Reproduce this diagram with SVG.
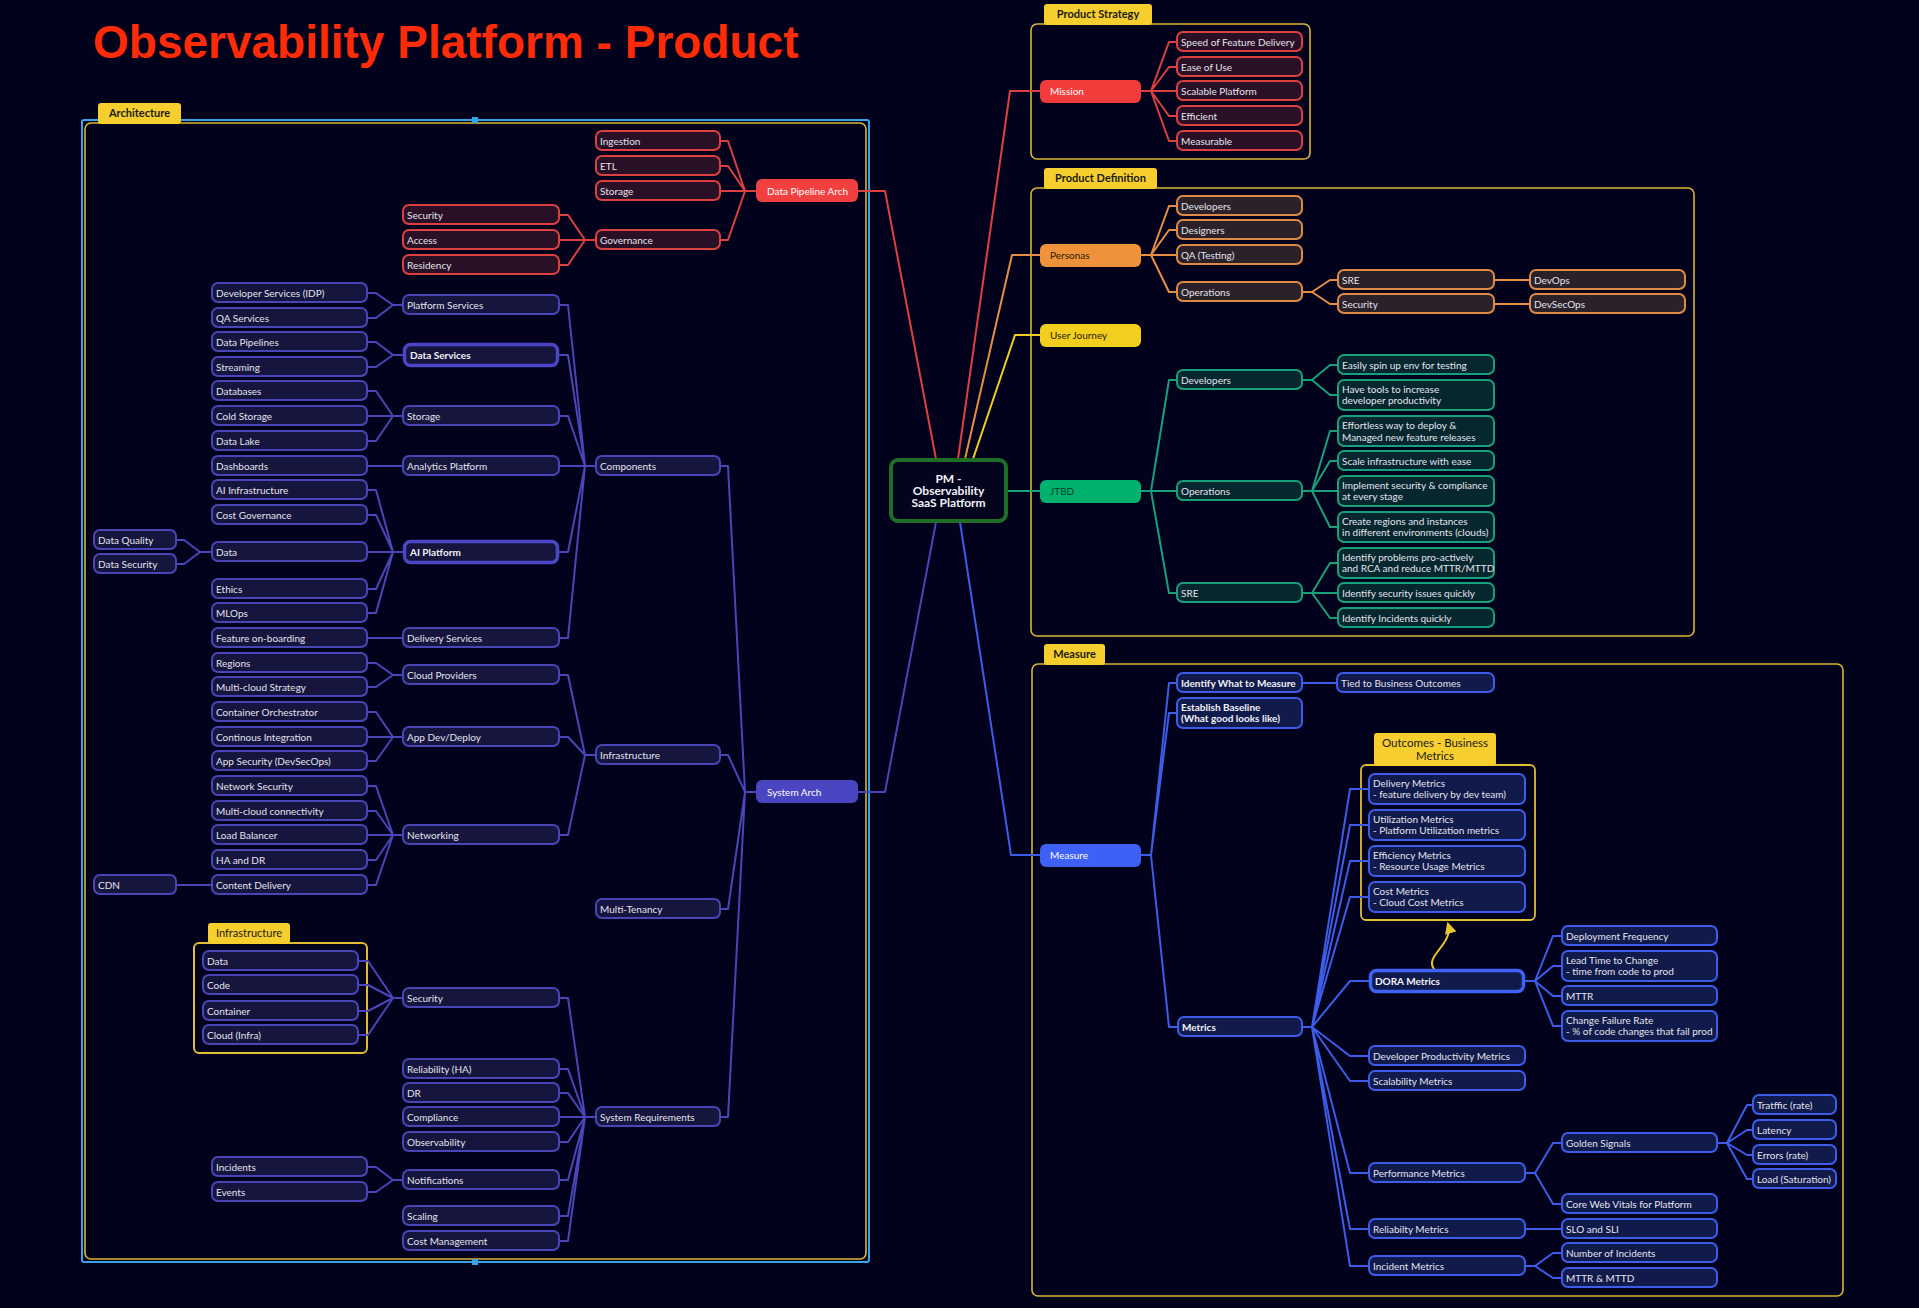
<svg xmlns="http://www.w3.org/2000/svg" width="1919" height="1308" viewBox="0 0 1919 1308">
<defs>
<style>
.r{fill:#2A1026;stroke:#DC4040;stroke-width:2}
.p{fill:#15153E;stroke:#4A45B6;stroke-width:2}
.pb{fill:#15153E;stroke:#4B46C6;stroke-width:3.5}
.o{fill:#2B2129;stroke:#DE8A46;stroke-width:2}
.g{fill:#06272D;stroke:#17A079;stroke-width:2}
.b{fill:#101A4B;stroke:#3D5CE8;stroke-width:2}
.bb{fill:#101A4B;stroke:#3F62F5;stroke-width:3.5}
.t{font-family:Lato,"Open Sans","DejaVu Sans",sans-serif;font-size:10px;fill:#E4E4EE}
.tb{font-weight:bold;fill:#F2F2F8}
.tw{fill:#FFFFFF}
.td{fill:#2A1A08}
.tab{fill:#F6CE2E}
.tabt{font-family:Lato,"Open Sans",sans-serif;font-size:11px;font-weight:bold;fill:#1A1A12;text-anchor:middle}
.box{fill:none;stroke:#D8B735;stroke-width:1.6}
.c path{fill:none;stroke-width:2;stroke-linejoin:round;stroke-linecap:round}
</style>
<marker id="ah" viewBox="0 0 10 10" refX="8" refY="5" markerWidth="6" markerHeight="6" orient="auto-start-reverse">
<path d="M0,0 L10,5 L0,10 z" fill="#E8C52A"/>
</marker>
</defs>
<rect width="1919" height="1308" fill="#02021C"/>

<text x="93" y="58" font-family="'Liberation Sans',Arial,sans-serif" font-size="46" font-weight="bold" fill="#FF2B06">Observability Platform - Product</text>

<!-- containers -->
<g id="architecture-container">
<rect x="82" y="120" width="787" height="1142" rx="2" fill="none" stroke="#38A3E6" stroke-width="2"/>
<rect x="85" y="123" width="781" height="1136" rx="6" class="box"/>
<rect x="98" y="103" width="83" height="21" rx="3" class="tab"/>
<text x="139.5" y="117" class="tabt">Architecture</text>
<rect x="472" y="117" width="6" height="6" fill="#38A3E6"/>
<rect x="472" y="1259" width="6" height="6" fill="#38A3E6"/>
</g>
<g id="infrastructure-container">
<rect x="194" y="943" width="173" height="110" rx="5" fill="none" stroke="#E0BC30" stroke-width="2"/>
<rect x="208" y="923" width="82" height="21" rx="3" class="tab"/>
<text x="249" y="937" class="tabt" font-weight="normal" style="font-weight:normal">Infrastructure</text>
</g>
<g id="product-strategy-container">
<rect x="1031" y="24" width="279" height="135" rx="6" class="box"/>
<rect x="1044" y="4" width="108" height="21" rx="3" class="tab"/>
<text x="1098" y="18" class="tabt">Product Strategy</text>
</g>
<g id="product-definition-container">
<rect x="1031" y="188" width="663" height="448" rx="6" class="box"/>
<rect x="1044" y="168" width="113" height="21" rx="3" class="tab"/>
<text x="1100.5" y="182" class="tabt">Product Definition</text>
</g>
<g id="measure-container">
<rect x="1032" y="664" width="811" height="632" rx="6" class="box"/>
<rect x="1044" y="644" width="61" height="21" rx="3" class="tab"/>
<text x="1074.5" y="658" class="tabt">Measure</text>
</g>
<g id="outcomes-container">
<rect x="1361" y="765" width="174" height="155" rx="5" fill="none" stroke="#E0BC30" stroke-width="1.8"/>
<rect x="1374" y="733" width="122" height="33" rx="3" class="tab"/>
<text x="1435" y="747" class="tabt" style="font-weight:normal;font-size:11.5px">Outcomes - Business</text>
<text x="1435" y="760" class="tabt" style="font-weight:normal;font-size:11.5px">Metrics</text>
</g>

<!-- connectors -->
<g id="connectors" class="c">
<g stroke="#4A45B8">
<path d="M367 293H376L393 305H403M367 318H376L393 305"/>
<path d="M367 342H376L393 355H403M367 367H376L393 355"/>
<path d="M367 391H376L393 416H403M367 416H403M367 441H376L393 416"/>
<path d="M367 466H403"/>
<path d="M367 490H376L393 552H403M367 515H376L393 552M367 552H403M367 589H376L393 552M367 613H376L393 552"/>
<path d="M176 540H184L200 552H212M176 564H184L200 552"/>
<path d="M367 638H403"/>
<path d="M367 663H376L393 675H403M367 687H376L393 675"/>
<path d="M367 712H376L393 737H403M367 737H403M367 761H376L393 737"/>
<path d="M367 786H376L393 835H403M367 811H376L393 835M367 835H403M367 860H376L393 835M367 885H376L393 835"/>
<path d="M176 885H212"/>
<path d="M358 961H368L393 998H403M358 985H368L393 998M358 1011H368L393 998M358 1035H368L393 998"/>
<path d="M367 1167H376L393 1180H403M367 1192H376L393 1180"/>
<path d="M559 305H568L585 466H596M559 355H568L585 466M559 416H568L585 466M559 466H596M559 552H568L585 466M559 638H568L585 466"/>
<path d="M559 675H568L585 755H596M559 737H568L585 755M559 835H568L585 755"/>
<path d="M559 998H568L585 1117H596M559 1069H568L585 1117M559 1093H568L585 1117M559 1117H596M559 1142H568L585 1117M559 1180H568L585 1117M559 1216H568L585 1117M559 1241H568L585 1117"/>
<path d="M720 466H728L745 792H756M720 755H728L745 792M720 909H728L745 792M720 1117H728L745 792"/>
<path d="M858 792H885L936 522"/>
</g>
<g stroke="#DC4040">
<path d="M559 215H568L585 240H596M559 240H596M559 265H568L585 240"/>
<path d="M720 141H728L745 191H756M720 166H728L745 191M720 191H756M720 240H728L745 191"/>
<path d="M858 191H885L936 459"/>
<path d="M958 459L1010 91H1040"/>
<path d="M1141 91H1151L1169 42H1177M1151 91L1169 67H1177M1151 91H1177M1151 91L1169 116H1177M1151 91L1169 141H1177"/>
</g>
<g stroke="#E88E44">
<path d="M965 459L1012 255H1040"/>
<path d="M1141 255H1151L1169 206H1177M1151 255L1169 230H1177M1151 255H1177M1151 255L1169 292H1177"/>
<path d="M1302 292H1312L1330 280H1338M1312 292L1330 304H1338"/>
<path d="M1494 280H1530M1494 304H1530"/>
</g>
<g stroke="#F2CF1F">
<path d="M973 459L1015 335H1040"/>
</g>
<g stroke="#17A079">
<path d="M1007 491H1040"/>
<path d="M1141 491H1151L1169 380H1177M1151 491H1177M1151 491L1169 593H1177"/>
<path d="M1302 380H1312L1330 365H1338M1312 380L1330 395H1338"/>
<path d="M1302 491H1312L1330 431H1338M1312 491L1330 461H1338M1312 491H1338M1312 491L1330 527H1338"/>
<path d="M1302 593H1312L1330 563H1338M1312 593H1338M1312 593L1330 618H1338"/>
</g>
<g stroke="#3D5CE8">
<path d="M960 522L1011 855H1040"/>
<path d="M1141 855H1151L1169 683H1177M1151 855L1169 713H1177M1151 855L1169 1027H1177"/>
<path d="M1302 683H1337"/>
<path d="M1302 1027H1312L1350 789H1369M1312 1027L1350 825H1369M1312 1027L1350 861H1369M1312 1027L1350 897H1369M1312 1027L1350 981H1369M1312 1027L1350 1056H1369M1312 1027L1350 1081H1369M1312 1027L1350 1173H1369M1312 1027L1350 1229H1369M1312 1027L1350 1266H1369"/>
<path d="M1525 981H1535L1553 936H1562M1535 981L1553 966H1562M1535 981L1553 996H1562M1535 981L1553 1026H1562"/>
<path d="M1525 1173H1535L1553 1143H1562M1535 1173L1553 1204H1562"/>
<path d="M1525 1229H1562"/>
<path d="M1525 1266H1535L1553 1253H1562M1535 1266L1553 1278H1562"/>
<path d="M1717 1143H1727L1747 1105H1753M1727 1143L1747 1130H1753M1727 1143L1747 1155H1753M1727 1143L1747 1179H1753"/>
</g>
<path d="M1434 969C1424 956 1454 944 1448 924" stroke="#E8C52A" stroke-width="1.5" marker-end="url(#ah)"/>
</g>

<!-- central node -->
<g id="n-center">
<rect x="891" y="460" width="115" height="61" rx="7" fill="#04041E" stroke="#1F6E28" stroke-width="4"/>
<text x="948.5" y="483" class="t tb" font-size="12" text-anchor="middle" style="font-size:12px">PM -</text>
<text x="948.5" y="495" class="t tb" text-anchor="middle" style="font-size:12px">Observability</text>
<text x="948.5" y="507" class="t tb" text-anchor="middle" style="font-size:12px">SaaS Platform</text>
</g>

<!-- architecture L1 -->
<g id="n-data-pipeline-arch"><rect x="756" y="179" width="102" height="23" rx="6" fill="#F0403F"/><text x="767" y="195" class="t tw">Data Pipeline Arch</text></g>
<g id="n-system-arch"><rect x="756" y="780" width="102" height="23" rx="6" fill="#4A45C0"/><text x="767" y="796" class="t tw">System Arch</text></g>

<!-- architecture L2 -->
<g id="n-ingestion"><rect x="596" y="131" width="124" height="19" rx="6" class="r"/><text x="600" y="145" class="t">Ingestion</text></g>
<g id="n-etl"><rect x="596" y="156" width="124" height="19" rx="6" class="r"/><text x="600" y="170" class="t">ETL</text></g>
<g id="n-dp-storage"><rect x="596" y="181" width="124" height="19" rx="6" class="r"/><text x="600" y="195" class="t">Storage</text></g>
<g id="n-governance"><rect x="596" y="230" width="124" height="19" rx="6" class="r"/><text x="600" y="244" class="t">Governance</text></g>
<g id="n-components"><rect x="596" y="456" width="124" height="19" rx="6" class="p"/><text x="600" y="470" class="t">Components</text></g>
<g id="n-infrastructure"><rect x="596" y="745" width="124" height="19" rx="6" class="p"/><text x="600" y="759" class="t">Infrastructure</text></g>
<g id="n-multi-tenancy"><rect x="596" y="899" width="124" height="19" rx="6" class="p"/><text x="600" y="913" class="t">Multi-Tenancy</text></g>
<g id="n-system-requirements"><rect x="596" y="1107" width="124" height="19" rx="6" class="p"/><text x="600" y="1121" class="t">System Requirements</text></g>

<!-- architecture L3 -->
<g id="n-gov-security"><rect x="403" y="205" width="156" height="19" rx="6" class="r"/><text x="407" y="219" class="t">Security</text></g>
<g id="n-access"><rect x="403" y="230" width="156" height="19" rx="6" class="r"/><text x="407" y="244" class="t">Access</text></g>
<g id="n-residency"><rect x="403" y="255" width="156" height="19" rx="6" class="r"/><text x="407" y="269" class="t">Residency</text></g>
<g id="n-platform-services"><rect x="403" y="295" width="156" height="19" rx="6" class="p"/><text x="407" y="309" class="t">Platform Services</text></g>
<g id="n-data-services"><rect x="404.5" y="344.5" width="153" height="21" rx="6" class="pb"/><text x="410" y="359" class="t tb">Data Services</text></g>
<g id="n-storage"><rect x="403" y="406" width="156" height="19" rx="6" class="p"/><text x="407" y="420" class="t">Storage</text></g>
<g id="n-analytics"><rect x="403" y="456" width="156" height="19" rx="6" class="p"/><text x="407" y="470" class="t">Analytics Platform</text></g>
<g id="n-ai-platform"><rect x="404.5" y="541.5" width="153" height="21" rx="6" class="pb"/><text x="410" y="556" class="t tb">AI Platform</text></g>
<g id="n-delivery-services"><rect x="403" y="628" width="156" height="19" rx="6" class="p"/><text x="407" y="642" class="t">Delivery Services</text></g>
<g id="n-cloud-providers"><rect x="403" y="665" width="156" height="19" rx="6" class="p"/><text x="407" y="679" class="t">Cloud Providers</text></g>
<g id="n-appdev"><rect x="403" y="727" width="156" height="19" rx="6" class="p"/><text x="407" y="741" class="t">App Dev/Deploy</text></g>
<g id="n-networking"><rect x="403" y="825" width="156" height="19" rx="6" class="p"/><text x="407" y="839" class="t">Networking</text></g>
<g id="n-sec-infra"><rect x="403" y="988" width="156" height="19" rx="6" class="p"/><text x="407" y="1002" class="t">Security</text></g>
<g id="n-reliability"><rect x="403" y="1059" width="156" height="19" rx="6" class="p"/><text x="407" y="1073" class="t">Reliability (HA)</text></g>
<g id="n-dr"><rect x="403" y="1083" width="156" height="19" rx="6" class="p"/><text x="407" y="1097" class="t">DR</text></g>
<g id="n-compliance"><rect x="403" y="1107" width="156" height="19" rx="6" class="p"/><text x="407" y="1121" class="t">Compliance</text></g>
<g id="n-observability"><rect x="403" y="1132" width="156" height="19" rx="6" class="p"/><text x="407" y="1146" class="t">Observability</text></g>
<g id="n-notifications"><rect x="403" y="1170" width="156" height="19" rx="6" class="p"/><text x="407" y="1184" class="t">Notifications</text></g>
<g id="n-scaling"><rect x="403" y="1206" width="156" height="19" rx="6" class="p"/><text x="407" y="1220" class="t">Scaling</text></g>
<g id="n-cost-mgmt"><rect x="403" y="1231" width="156" height="19" rx="6" class="p"/><text x="407" y="1245" class="t">Cost Management</text></g>

<!-- architecture leaves -->
<g id="n-dev-services"><rect x="212" y="283" width="155" height="19" rx="6" class="p"/><text x="216" y="297" class="t">Developer Services (IDP)</text></g>
<g id="n-qa-services"><rect x="212" y="308" width="155" height="19" rx="6" class="p"/><text x="216" y="322" class="t">QA Services</text></g>
<g id="n-data-pipelines"><rect x="212" y="332" width="155" height="19" rx="6" class="p"/><text x="216" y="346" class="t">Data Pipelines</text></g>
<g id="n-streaming"><rect x="212" y="357" width="155" height="19" rx="6" class="p"/><text x="216" y="371" class="t">Streaming</text></g>
<g id="n-databases"><rect x="212" y="381" width="155" height="19" rx="6" class="p"/><text x="216" y="395" class="t">Databases</text></g>
<g id="n-cold-storage"><rect x="212" y="406" width="155" height="19" rx="6" class="p"/><text x="216" y="420" class="t">Cold Storage</text></g>
<g id="n-data-lake"><rect x="212" y="431" width="155" height="19" rx="6" class="p"/><text x="216" y="445" class="t">Data Lake</text></g>
<g id="n-dashboards"><rect x="212" y="456" width="155" height="19" rx="6" class="p"/><text x="216" y="470" class="t">Dashboards</text></g>
<g id="n-ai-infra"><rect x="212" y="480" width="155" height="19" rx="6" class="p"/><text x="216" y="494" class="t">AI Infrastructure</text></g>
<g id="n-cost-gov"><rect x="212" y="505" width="155" height="19" rx="6" class="p"/><text x="216" y="519" class="t">Cost Governance</text></g>
<g id="n-ai-data"><rect x="212" y="542" width="155" height="19" rx="6" class="p"/><text x="216" y="556" class="t">Data</text></g>
<g id="n-ethics"><rect x="212" y="579" width="155" height="19" rx="6" class="p"/><text x="216" y="593" class="t">Ethics</text></g>
<g id="n-mlops"><rect x="212" y="603" width="155" height="19" rx="6" class="p"/><text x="216" y="617" class="t">MLOps</text></g>
<g id="n-feature-onboarding"><rect x="212" y="628" width="155" height="19" rx="6" class="p"/><text x="216" y="642" class="t">Feature on-boarding</text></g>
<g id="n-regions"><rect x="212" y="653" width="155" height="19" rx="6" class="p"/><text x="216" y="667" class="t">Regions</text></g>
<g id="n-mc-strategy"><rect x="212" y="677" width="155" height="19" rx="6" class="p"/><text x="216" y="691" class="t">Multi-cloud Strategy</text></g>
<g id="n-container-orch"><rect x="212" y="702" width="155" height="19" rx="6" class="p"/><text x="216" y="716" class="t">Container Orchestrator</text></g>
<g id="n-ci"><rect x="212" y="727" width="155" height="19" rx="6" class="p"/><text x="216" y="741" class="t">Continous Integration</text></g>
<g id="n-app-sec"><rect x="212" y="751" width="155" height="19" rx="6" class="p"/><text x="216" y="765" class="t">App Security (DevSecOps)</text></g>
<g id="n-net-sec"><rect x="212" y="776" width="155" height="19" rx="6" class="p"/><text x="216" y="790" class="t">Network Security</text></g>
<g id="n-mc-conn"><rect x="212" y="801" width="155" height="19" rx="6" class="p"/><text x="216" y="815" class="t">Multi-cloud connectivity</text></g>
<g id="n-lb"><rect x="212" y="825" width="155" height="19" rx="6" class="p"/><text x="216" y="839" class="t">Load Balancer</text></g>
<g id="n-ha-dr"><rect x="212" y="850" width="155" height="19" rx="6" class="p"/><text x="216" y="864" class="t">HA and DR</text></g>
<g id="n-content-delivery"><rect x="212" y="875" width="155" height="19" rx="6" class="p"/><text x="216" y="889" class="t">Content Delivery</text></g>
<g id="n-incidents"><rect x="212" y="1157" width="155" height="19" rx="6" class="p"/><text x="216" y="1171" class="t">Incidents</text></g>
<g id="n-events"><rect x="212" y="1182" width="155" height="19" rx="6" class="p"/><text x="216" y="1196" class="t">Events</text></g>
<g id="n-data-quality"><rect x="94" y="530" width="82" height="19" rx="6" class="p"/><text x="98" y="544" class="t">Data Quality</text></g>
<g id="n-data-security"><rect x="94" y="554" width="82" height="19" rx="6" class="p"/><text x="98" y="568" class="t">Data Security</text></g>
<g id="n-cdn"><rect x="94" y="875" width="82" height="19" rx="6" class="p"/><text x="98" y="889" class="t">CDN</text></g>
<g id="n-inf-data"><rect x="203" y="951" width="155" height="19" rx="6" class="p"/><text x="207" y="965" class="t">Data</text></g>
<g id="n-inf-code"><rect x="203" y="975" width="155" height="19" rx="6" class="p"/><text x="207" y="989" class="t">Code</text></g>
<g id="n-inf-container"><rect x="203" y="1001" width="155" height="19" rx="6" class="p"/><text x="207" y="1015" class="t">Container</text></g>
<g id="n-inf-cloud"><rect x="203" y="1025" width="155" height="19" rx="6" class="p"/><text x="207" y="1039" class="t">Cloud (Infra)</text></g>

<!-- right side L1 -->
<g id="n-mission"><rect x="1040" y="80" width="101" height="23" rx="6" fill="#F23C3C"/><text x="1050" y="95" class="t tw">Mission</text></g>
<g id="n-personas"><rect x="1040" y="244" width="101" height="23" rx="6" fill="#F0923C"/><text x="1050" y="259" class="t td">Personas</text></g>
<g id="n-user-journey"><rect x="1040" y="324" width="101" height="23" rx="6" fill="#F2CF1F"/><text x="1050" y="339" class="t td">User Journey</text></g>
<g id="n-jtbd"><rect x="1040" y="480" width="101" height="23" rx="6" fill="#00B26E"/><text x="1050" y="495" class="t" style="fill:#083A24">JTBD</text></g>
<g id="n-measure"><rect x="1040" y="844" width="101" height="23" rx="6" fill="#3F60F5"/><text x="1050" y="859" class="t tw">Measure</text></g>

<!-- mission children -->
<g id="n-speed"><rect x="1177" y="32" width="125" height="19" rx="6" class="r"/><text x="1181" y="46" class="t">Speed of Feature Delivery</text></g>
<g id="n-ease"><rect x="1177" y="57" width="125" height="19" rx="6" class="r"/><text x="1181" y="71" class="t">Ease of Use</text></g>
<g id="n-scalable"><rect x="1177" y="81" width="125" height="19" rx="6" class="r"/><text x="1181" y="95" class="t">Scalable Platform</text></g>
<g id="n-efficient"><rect x="1177" y="106" width="125" height="19" rx="6" class="r"/><text x="1181" y="120" class="t">Efficient</text></g>
<g id="n-measurable"><rect x="1177" y="131" width="125" height="19" rx="6" class="r"/><text x="1181" y="145" class="t">Measurable</text></g>

<!-- personas -->
<g id="n-p-developers"><rect x="1177" y="196" width="125" height="19" rx="6" class="o"/><text x="1181" y="210" class="t">Developers</text></g>
<g id="n-p-designers"><rect x="1177" y="220" width="125" height="19" rx="6" class="o"/><text x="1181" y="234" class="t">Designers</text></g>
<g id="n-p-qa"><rect x="1177" y="245" width="125" height="19" rx="6" class="o"/><text x="1181" y="259" class="t">QA (Testing)</text></g>
<g id="n-p-operations"><rect x="1177" y="282" width="125" height="19" rx="6" class="o"/><text x="1181" y="296" class="t">Operations</text></g>
<g id="n-p-sre"><rect x="1338" y="270" width="156" height="19" rx="6" class="o"/><text x="1342" y="284" class="t">SRE</text></g>
<g id="n-p-security"><rect x="1338" y="294" width="156" height="19" rx="6" class="o"/><text x="1342" y="308" class="t">Security</text></g>
<g id="n-p-devops"><rect x="1530" y="270" width="155" height="19" rx="6" class="o"/><text x="1534" y="284" class="t">DevOps</text></g>
<g id="n-p-devsecops"><rect x="1530" y="294" width="155" height="19" rx="6" class="o"/><text x="1534" y="308" class="t">DevSecOps</text></g>

<!-- JTBD -->
<g id="n-j-developers"><rect x="1177" y="370" width="125" height="19" rx="6" class="g"/><text x="1181" y="384" class="t">Developers</text></g>
<g id="n-j-operations"><rect x="1177" y="481" width="125" height="19" rx="6" class="g"/><text x="1181" y="495" class="t">Operations</text></g>
<g id="n-j-sre"><rect x="1177" y="583" width="125" height="19" rx="6" class="g"/><text x="1181" y="597" class="t">SRE</text></g>
<g id="n-j-spin"><rect x="1338" y="355" width="156" height="19" rx="6" class="g"/><text x="1342" y="369" class="t">Easily spin up env for testing</text></g>
<g id="n-j-tools"><rect x="1338" y="380" width="156" height="30" rx="6" class="g"/><text x="1342" y="393" class="t">Have tools to increase</text><text x="1342" y="404" class="t">developer productivity</text></g>
<g id="n-j-deploy"><rect x="1338" y="416" width="156" height="30" rx="6" class="g"/><text x="1342" y="429" class="t">Effortless way to deploy &amp;</text><text x="1342" y="441" class="t">Managed new feature releases</text></g>
<g id="n-j-scale"><rect x="1338" y="451" width="156" height="19" rx="6" class="g"/><text x="1342" y="465" class="t">Scale infrastructure with ease</text></g>
<g id="n-j-security"><rect x="1338" y="476" width="156" height="30" rx="6" class="g"/><text x="1342" y="489" class="t">Implement security &amp; compliance</text><text x="1342" y="500" class="t">at every stage</text></g>
<g id="n-j-regions"><rect x="1338" y="512" width="156" height="30" rx="6" class="g"/><text x="1342" y="525" class="t">Create regions and instances</text><text x="1342" y="536" class="t">in different environments (clouds)</text></g>
<g id="n-j-problems"><rect x="1338" y="548" width="156" height="30" rx="6" class="g"/><text x="1342" y="561" class="t">Identify problems pro-actively</text><text x="1342" y="572" class="t">and RCA and reduce MTTR/MTTD</text></g>
<g id="n-j-secissues"><rect x="1338" y="583" width="156" height="19" rx="6" class="g"/><text x="1342" y="597" class="t">Identify security issues quickly</text></g>
<g id="n-j-incidents"><rect x="1338" y="608" width="156" height="19" rx="6" class="g"/><text x="1342" y="622" class="t">Identify Incidents quickly</text></g>

<!-- Measure -->
<g id="n-m-identify"><rect x="1177" y="673" width="125" height="19" rx="6" class="b"/><text x="1181" y="687" class="t tb">Identify What to Measure</text></g>
<g id="n-m-baseline"><rect x="1177" y="698" width="125" height="30" rx="6" class="b"/><text x="1181" y="711" class="t tb">Establish Baseline</text><text x="1181" y="722" class="t tb">(What good looks like)</text></g>
<g id="n-m-metrics"><rect x="1178" y="1017" width="124" height="19" rx="6" class="b"/><text x="1182" y="1031" class="t tb">Metrics</text></g>
<g id="n-m-tied"><rect x="1337" y="673" width="157" height="19" rx="6" class="b"/><text x="1341" y="687" class="t">Tied to Business Outcomes</text></g>
<g id="n-m-delivery"><rect x="1369" y="774" width="156" height="30" rx="6" class="b"/><text x="1373" y="787" class="t">Delivery Metrics</text><text x="1373" y="798" class="t">- feature delivery by dev team)</text></g>
<g id="n-m-utilization"><rect x="1369" y="810" width="156" height="30" rx="6" class="b"/><text x="1373" y="823" class="t">Utilization Metrics</text><text x="1373" y="834" class="t">- Platform Utilization metrics</text></g>
<g id="n-m-efficiency"><rect x="1369" y="846" width="156" height="30" rx="6" class="b"/><text x="1373" y="859" class="t">Efficiency Metrics</text><text x="1373" y="870" class="t">- Resource Usage Metrics</text></g>
<g id="n-m-cost"><rect x="1369" y="882" width="156" height="30" rx="6" class="b"/><text x="1373" y="895" class="t">Cost Metrics</text><text x="1373" y="906" class="t">- Cloud Cost Metrics</text></g>
<g id="n-m-dora"><rect x="1370.5" y="970.5" width="153" height="21" rx="6" class="bb"/><text x="1375" y="985" class="t tb">DORA Metrics</text></g>
<g id="n-m-devprod"><rect x="1369" y="1046" width="156" height="19" rx="6" class="b"/><text x="1373" y="1060" class="t">Developer Productivity Metrics</text></g>
<g id="n-m-scalability"><rect x="1369" y="1071" width="156" height="19" rx="6" class="b"/><text x="1373" y="1085" class="t">Scalability Metrics</text></g>
<g id="n-m-performance"><rect x="1369" y="1163" width="156" height="19" rx="6" class="b"/><text x="1373" y="1177" class="t">Performance Metrics</text></g>
<g id="n-m-reliability"><rect x="1369" y="1219" width="156" height="19" rx="6" class="b"/><text x="1373" y="1233" class="t">Reliabilty Metrics</text></g>
<g id="n-m-incident"><rect x="1369" y="1256" width="156" height="19" rx="6" class="b"/><text x="1373" y="1270" class="t">Incident Metrics</text></g>
<g id="n-m-deploy-freq"><rect x="1562" y="926" width="155" height="19" rx="6" class="b"/><text x="1566" y="940" class="t">Deployment Frequency</text></g>
<g id="n-m-lead-time"><rect x="1562" y="951" width="155" height="30" rx="6" class="b"/><text x="1566" y="964" class="t">Lead Time to Change</text><text x="1566" y="975" class="t">- time from code to prod</text></g>
<g id="n-m-mttr"><rect x="1562" y="986" width="155" height="19" rx="6" class="b"/><text x="1566" y="1000" class="t">MTTR</text></g>
<g id="n-m-cfr"><rect x="1562" y="1011" width="155" height="30" rx="6" class="b"/><text x="1566" y="1024" class="t">Change Failure Rate</text><text x="1566" y="1035" class="t">- % of code changes that fail prod</text></g>
<g id="n-m-golden"><rect x="1562" y="1133" width="155" height="19" rx="6" class="b"/><text x="1566" y="1147" class="t">Golden Signals</text></g>
<g id="n-m-cwv"><rect x="1562" y="1194" width="155" height="19" rx="6" class="b"/><text x="1566" y="1208" class="t">Core Web Vitals for Platform</text></g>
<g id="n-m-slo"><rect x="1562" y="1219" width="155" height="19" rx="6" class="b"/><text x="1566" y="1233" class="t">SLO and SLI</text></g>
<g id="n-m-num-incidents"><rect x="1562" y="1243" width="155" height="19" rx="6" class="b"/><text x="1566" y="1257" class="t">Number of Incidents</text></g>
<g id="n-m-mttr-mttd"><rect x="1562" y="1268" width="155" height="19" rx="6" class="b"/><text x="1566" y="1282" class="t">MTTR &amp; MTTD</text></g>
<g id="n-m-traffic"><rect x="1753" y="1095" width="83" height="19" rx="6" class="b"/><text x="1757" y="1109" class="t">Tratffic (rate)</text></g>
<g id="n-m-latency"><rect x="1753" y="1120" width="83" height="19" rx="6" class="b"/><text x="1757" y="1134" class="t">Latency</text></g>
<g id="n-m-errors"><rect x="1753" y="1145" width="83" height="19" rx="6" class="b"/><text x="1757" y="1159" class="t">Errors (rate)</text></g>
<g id="n-m-load"><rect x="1753" y="1169" width="83" height="19" rx="6" class="b"/><text x="1757" y="1183" class="t">Load (Saturation)</text></g>
</svg>
